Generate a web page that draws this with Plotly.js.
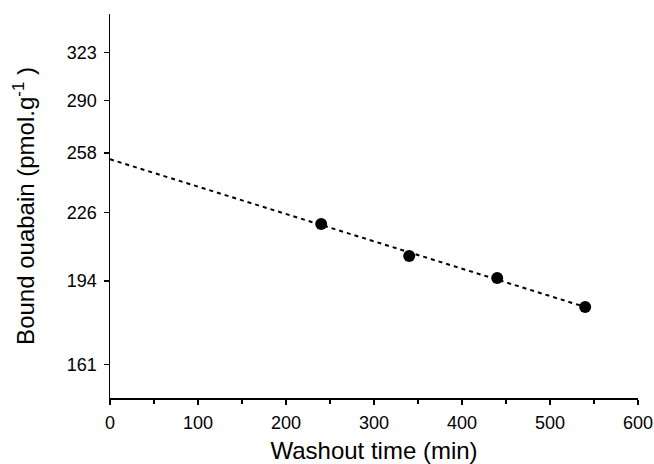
<!DOCTYPE html>
<html>
<head>
<meta charset="utf-8">
<script src="https://cdn.plot.ly/plotly-3.0.1.min.js"></script>
<style>html,body{margin:0;padding:0;background:#fff;}#chart{width:654px;height:464px;}</style>
</head>
<body>
<div id="chart"></div>
<script>
// Measured points
var washoutTime = [240, 340, 440, 540];
var boundOuabain = [220.3, 205.1, 195.3, 183.1];
// Fitted line (endpoints)
var fitTime = [0, 540];
var fitOuabain = [254.5, 183.1];
// Axis ticks
var yTickVals = [161, 194, 226, 258, 290, 323];
var yTickText = ["161", "194", "226", "258", "290", "323"];
var xTickVals = [0, 100, 200, 300, 400, 500, 600];

var font = "Liberation Sans, Arial, sans-serif";

var traces = [
  {
    x: fitTime, y: fitOuabain, mode: "lines", type: "scatter",
    line: {color: "#000", width: 2, dash: "4px,4px"},
    hoverinfo: "skip", showlegend: false
  },
  {
    x: washoutTime, y: boundOuabain, mode: "markers", type: "scatter",
    marker: {color: "#000", size: 12, symbol: "circle"},
    showlegend: false
  }
];

var layout = {
  width: 654, height: 464,
  margin: {l: 110, r: 16, t: 14, b: 66},
  paper_bgcolor: "#fff", plot_bgcolor: "#fff",
  font: {family: font, color: "#000", size: 18},
  showlegend: false,
  xaxis: {
    range: [0, 600],
    tickvals: xTickVals,
    ticks: "outside", ticklen: 5, tickwidth: 1.5, tickcolor: "#000",
    ticklabelstandoff: 3,
    minor: {dtick: 50, ticks: "outside", ticklen: 4, tickwidth: 1.5, tickcolor: "#000", showgrid: false},
    showline: true, linecolor: "#000", linewidth: 1.5,
    showgrid: false, zeroline: false,
    tickfont: {family: font, size: 18, color: "#000"},
    title: {text: "Washout time (min)", font: {family: font, size: 24, color: "#000"}, standoff: 13}
  },
  yaxis: {
    type: "log",
    range: [2.1746, 2.5463],
    tickvals: yTickVals, ticktext: yTickText,
    ticks: "outside", ticklen: 5, tickwidth: 1.5, tickcolor: "#000",
    ticklabelstandoff: 3,
    showline: true, linecolor: "#000", linewidth: 1.5,
    showgrid: false, zeroline: false,
    tickfont: {family: font, size: 18, color: "#000"},
    title: {text: "Bound ouabain (pmol.g<sup>-1</sup> )", font: {family: font, size: 24, color: "#000"}, standoff: 25}
  }
};

Plotly.newPlot("chart", traces, layout, {displayModeBar: false, staticPlot: true});
</script>
</body>
</html>
